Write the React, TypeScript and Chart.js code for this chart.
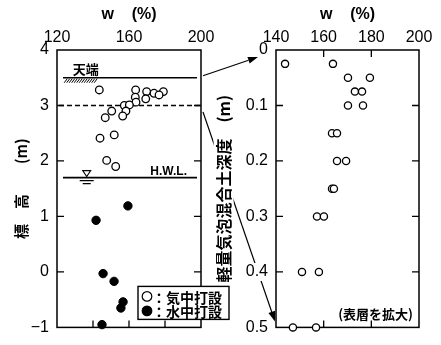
import React, { useEffect, useRef } from 'react';
import { Chart, registerables } from 'chart.js';
Chart.register(...registerables);

// ---------------- data ----------------
const SERIES_LABELS = ['気中打設', '水中打設'];

// left chart: elevation (m) vs water content w (%)
const AIR_W = [143.5, 163.7, 169.8, 173.9, 179.1, 176.7, 163.5, 169.3, 163.9, 157.4, 160.2, 158.3, 150.4, 156.5, 146.8, 143.9, 151.8, 147.6, 152.6];
const AIR_EL = [3.28, 3.28, 3.25, 3.22, 3.25, 3.19, 3.15, 3.12, 3.06, 3.0, 3.01, 2.9, 2.9, 2.81, 2.78, 2.41, 2.47, 2.01, 1.9];
const WATER_W = [159.4, 141.7, 145.6, 151.7, 156.7, 155.5, 145.0];
const WATER_EL = [1.19, 0.93, -0.03, -0.17, -0.54, -0.65, -0.95];

// right chart: depth (m) vs w (%)
const DEPTH_W = [143.8, 163.9, 170.2, 179.4, 173.1, 176.1, 170.2, 176.5, 163.5, 165.6, 165.6, 169.4, 163.5, 164.3, 157.2, 160.1, 150.9, 158.0, 147.1, 156.8];
const DEPTH = [0.025, 0.025, 0.05, 0.05, 0.075, 0.075, 0.1, 0.1, 0.15, 0.15, 0.2, 0.2, 0.25, 0.25, 0.3, 0.3, 0.4, 0.4, 0.5, 0.5];

// reference levels (m)
const CREST_EL = 3.5;
const SURFACE_EL = 3.0;
const HWL_EL = 1.7;
const HATCH_W = [124, 141];
const CREST_LABEL_W = 136;
const WATER_MARK_W = 136.5;

// tick labels
const LEFT_X_TICK_LABELS = [120, 160, 200];
const RIGHT_X_TICK_LABELS = [140, 160, 180, 200];

const W = 441;
const H = 345;
const NUM = "'Liberation Sans', Arial, Helvetica, sans-serif";
const CJK = "'Noto Sans CJK JP', 'Noto Sans', sans-serif";

const near = (a: number, b: number) => Math.abs(a - b) < 1e-9;

const framePlugin = {
  id: 'frame',
  beforeDatasetsDraw(chart: any, _a: any, opts: any) {
    const { ctx, chartArea: a } = chart;
    const xs = chart.scales.x;
    const ys = chart.scales.y;
    ctx.save();
    ctx.strokeStyle = '#000';
    ctx.lineWidth = 1.5;
    ctx.strokeRect(a.left, a.top, a.right - a.left, a.bottom - a.top);
    ctx.lineWidth = 1.3;
    ctx.beginPath();
    const L = 7;
    for (const t of xs.ticks) {
      if (near(t.value, xs.min) || near(t.value, xs.max)) continue;
      const p = xs.getPixelForValue(t.value);
      ctx.moveTo(p, a.bottom);
      ctx.lineTo(p, a.bottom - L);
      if (opts && opts.topTicks) {
        ctx.moveTo(p, a.top);
        ctx.lineTo(p, a.top + L);
      }
    }
    for (const t of ys.ticks) {
      if (near(t.value, ys.min) || near(t.value, ys.max)) continue;
      const p = ys.getPixelForValue(t.value);
      ctx.moveTo(a.left, p);
      ctx.lineTo(a.left + L, p);
      ctx.moveTo(a.right, p);
      ctx.lineTo(a.right - L, p);
    }
    ctx.stroke();
    ctx.restore();
  },
};

const leftDecor = {
  id: 'leftDecor',
  beforeDatasetsDraw(chart: any) {
    const { ctx, chartArea: a } = chart;
    const xs = chart.scales.x;
    const ys = chart.scales.y;
    ctx.save();
    ctx.strokeStyle = '#000';
    ctx.fillStyle = '#000';
    // crest line
    const yc = ys.getPixelForValue(CREST_EL);
    ctx.lineWidth = 1.6;
    ctx.beginPath();
    ctx.moveTo(a.left + 6, yc);
    ctx.lineTo(a.right - 4, yc);
    ctx.stroke();
    // ground hatch
    const h0 = xs.getPixelForValue(HATCH_W[0]);
    const h1 = xs.getPixelForValue(HATCH_W[1]);
    ctx.lineWidth = 1;
    ctx.beginPath();
    for (let x = h0; x <= h1; x += 2.5) {
      ctx.moveTo(x + 3, yc + 1);
      ctx.lineTo(x, yc + 5);
    }
    ctx.stroke();
    // surface (dashed)
    const ysf = ys.getPixelForValue(SURFACE_EL);
    ctx.lineWidth = 1.5;
    ctx.setLineDash([5, 3]);
    ctx.beginPath();
    ctx.moveTo(a.left + 2, ysf);
    ctx.lineTo(a.right, ysf);
    ctx.stroke();
    ctx.setLineDash([]);
    // HWL
    const yh = ys.getPixelForValue(HWL_EL);
    ctx.lineWidth = 1.6;
    ctx.beginPath();
    ctx.moveTo(a.left + 6, yh);
    ctx.lineTo(a.right - 4, yh);
    ctx.stroke();
    // water mark
    const xw = xs.getPixelForValue(WATER_MARK_W);
    ctx.lineWidth = 1.1;
    ctx.beginPath();
    ctx.moveTo(xw - 4, yh - 7);
    ctx.lineTo(xw + 4, yh - 7);
    ctx.lineTo(xw, yh - 1);
    ctx.closePath();
    ctx.stroke();
    ctx.beginPath();
    ctx.moveTo(xw - 7, yh + 3);
    ctx.lineTo(xw + 7, yh + 3);
    ctx.moveTo(xw - 4, yh + 6);
    ctx.lineTo(xw + 4, yh + 6);
    ctx.stroke();
    // labels
    ctx.font = `bold 13px ${CJK}`;
    ctx.textAlign = 'center';
    ctx.textBaseline = 'alphabetic';
    ctx.fillText('天端', xs.getPixelForValue(CREST_LABEL_W), yc - 4);
    ctx.font = `bold 12px ${NUM}`;
    ctx.textAlign = 'right';
    ctx.fillText('H.W.L.', a.right - 14, yh - 3);
    ctx.restore();
  },
  afterDatasetsDraw(chart: any) {
    const { ctx, chartArea: a } = chart;
    const bx = a.left + 81;
    const by = a.bottom - 41;
    const bw = 91;
    const bh = 33;
    ctx.save();
    ctx.fillStyle = '#fff';
    ctx.fillRect(bx, by, bw, bh);
    ctx.strokeStyle = '#000';
    ctx.lineWidth = 1.4;
    ctx.strokeRect(bx, by, bw, bh);
    chart.data.datasets.forEach((ds: any, i: number) => {
      const cy = by + 10 + i * 14.5;
      ctx.beginPath();
      ctx.arc(bx + 9, cy, 4.8, 0, Math.PI * 2);
      ctx.fillStyle = ds.backgroundColor;
      ctx.fill();
      ctx.lineWidth = 1.2;
      ctx.strokeStyle = '#000';
      ctx.stroke();
      ctx.fillStyle = '#000';
      ctx.font = `bold 14px ${CJK}`;
      ctx.textAlign = 'left';
      ctx.textBaseline = 'middle';
      ctx.fillText('：' + ds.label, bx + 14, cy + 1);
    });
    ctx.restore();
  },
};

function drawArrow(ctx: any, x0: number, y0: number, x1: number, y1: number, clip?: number[][]) {
  const ang = Math.atan2(y1 - y0, x1 - x0);
  const hl = 10;
  const hw = 3.5;
  const bx = x1 - hl * Math.cos(ang);
  const by = y1 - hl * Math.sin(ang);
  ctx.save();
  if (clip && clip.length) {
    ctx.beginPath();
    ctx.rect(0, 0, W, H);
    for (const r of clip) ctx.rect(r[0], r[1], r[2], r[3]);
    ctx.clip('evenodd');
  }
  ctx.lineWidth = 1.2;
  ctx.strokeStyle = '#000';
  ctx.beginPath();
  ctx.moveTo(x0, y0);
  ctx.lineTo(bx, by);
  ctx.stroke();
  ctx.restore();
  ctx.save();
  ctx.fillStyle = '#000';
  ctx.beginPath();
  ctx.moveTo(x1, y1);
  ctx.lineTo(bx + hw * Math.sin(ang), by - hw * Math.cos(ang));
  ctx.lineTo(bx - hw * Math.sin(ang), by + hw * Math.cos(ang));
  ctx.closePath();
  ctx.fill();
  ctx.restore();
}

const TICK_FONT = { family: NUM, size: 16 };
const TITLE_FONT_W = { family: NUM, size: 16, weight: 'bold' as const };

export default function App() {
  const lRef = useRef<HTMLCanvasElement>(null);
  const rRef = useRef<HTMLCanvasElement>(null);

  useEffect(() => {
    const left = new Chart(lRef.current as HTMLCanvasElement, {
      type: 'scatter',
      data: {
        datasets: [
          {
            label: SERIES_LABELS[0],
            data: AIR_W.map((w, i) => ({ x: w, y: AIR_EL[i] })),
            backgroundColor: '#fff',
            borderColor: '#000',
            borderWidth: 1.3,
            pointRadius: 3.8,
            clip: false,
          } as any,
          {
            label: SERIES_LABELS[1],
            data: WATER_W.map((w, i) => ({ x: w, y: WATER_EL[i] })),
            backgroundColor: '#000',
            borderColor: '#000',
            borderWidth: 1,
            pointRadius: 4.2,
            clip: false,
          } as any,
        ],
      },
      options: {
        responsive: false,
        animation: false,
        events: [],
        layout: { padding: { left: 0, top: 0, right: W - 201, bottom: H - 333 } },
        plugins: {
          legend: { display: false },
          tooltip: { enabled: false },
          frame: { topTicks: false },
        } as any,
        scales: {
          x: {
            type: 'linear',
            position: 'top',
            min: 120,
            max: 200,
            afterFit: (s: any) => { s.height = 50; },
            ticks: {
              stepSize: 20,
              padding: 3,
              color: '#000',
              font: TICK_FONT,
              maxRotation: 0,
              autoSkip: false,
              callback: (v: any) => (LEFT_X_TICK_LABELS.includes(v) ? String(v) : ''),
            },
            grid: { display: false, drawTicks: false },
            border: { display: false },
            title: { display: true, text: 'w    (%)', color: '#000', font: TITLE_FONT_W, padding: { top: 5, bottom: 0 } },
          },
          y: {
            type: 'linear',
            min: -1,
            max: 4,
            afterFit: (s: any) => { s.width = 57; },
            ticks: {
              stepSize: 1,
              padding: 8,
              color: '#000',
              font: TICK_FONT,
              callback: (v: any) => (v < 0 ? '−' + -v : String(v)),
            },
            grid: { display: false, drawTicks: false },
            border: { display: false },
            title: { display: true, text: '標　高　　(m)', color: '#000', font: { family: CJK, size: 15, weight: 'bold' }, padding: { top: 12, bottom: 0 } },
          },
        },
      },
      plugins: [framePlugin, leftDecor],
    } as any);

    const rightDecor = {
      id: 'rightDecor',
      beforeDraw(chart: any) {
        const { ctx, chartArea: ra } = chart;
        const ys = chart.scales.y;
        const la = left.chartArea;
        const ly = left.scales.y;
        // exclusion rects: y-axis title and tick labels
        const clip: number[][] = [];
        ctx.save();
        ctx.font = `bold 16px ${CJK}`;
        const tt = ys.options.title.text;
        const tw = ctx.measureText(tt).width;
        const tcx = ys.left + 14 + 9.6;
        const tcy = (ra.top + ra.bottom) / 2;
        clip.push([tcx - 10, tcy - tw / 2 - 4, 20, tw + 8]);
        ctx.font = `16px ${NUM}`;
        for (const t of ys.ticks) {
          const lbl = t.label as string;
          const w = ctx.measureText(lbl).width;
          const py = ys.getPixelForValue(t.value);
          const rx = ys.right - 8;
          clip.push([rx - w - 3, py - 9, w + 5, 18]);
        }
        ctx.restore();
        drawArrow(ctx, la.right + 2, ly.getPixelForValue(CREST_EL) - 2, ra.left - 18, ys.getPixelForValue(0) + 7);
        drawArrow(ctx, la.right + 2, ly.getPixelForValue(SURFACE_EL) + 6.5, ra.left - 1, ys.getPixelForValue(0.5) - 6, clip);
      },
      afterDatasetsDraw(chart: any) {
        const { ctx, chartArea: ra } = chart;
        ctx.save();
        ctx.fillStyle = '#000';
        ctx.font = `bold 13px ${CJK}`;
        ctx.textAlign = 'right';
        ctx.textBaseline = 'alphabetic';
        ctx.fillText('(表層を拡大)', ra.right - 6, ra.bottom - 8);
        ctx.restore();
      },
    };

    const right = new Chart(rRef.current as HTMLCanvasElement, {
      type: 'scatter',
      data: {
        datasets: [
          {
            label: SERIES_LABELS[0],
            data: DEPTH_W.map((w, i) => ({ x: w, y: DEPTH[i] })),
            backgroundColor: '#fff',
            borderColor: '#000',
            borderWidth: 1.3,
            pointRadius: 3.6,
            clip: false,
          } as any,
        ],
      },
      options: {
        responsive: false,
        animation: false,
        events: [],
        layout: { padding: { left: 200, top: 0, right: W - 419, bottom: H - 336 } },
        plugins: {
          legend: { display: false },
          tooltip: { enabled: false },
          frame: { topTicks: true },
        } as any,
        scales: {
          x: {
            type: 'linear',
            position: 'top',
            min: 140,
            max: 200,
            afterFit: (s: any) => { s.height = 50; },
            ticks: {
              stepSize: 20,
              padding: 3,
              color: '#000',
              font: TICK_FONT,
              maxRotation: 0,
              autoSkip: false,
              callback: (v: any) => (RIGHT_X_TICK_LABELS.includes(v) ? String(v) : ''),
            },
            grid: { display: false, drawTicks: false },
            border: { display: false },
            title: { display: true, text: 'w    (%)', color: '#000', font: TITLE_FONT_W, padding: { top: 5, bottom: 0 } },
          },
          y: {
            type: 'linear',
            min: 0,
            max: 0.5,
            reverse: true,
            afterFit: (s: any) => { s.width = 76; },
            ticks: {
              stepSize: 0.1,
              padding: 8,
              color: '#000',
              font: TICK_FONT,
              callback: (v: any) => (v === 0 ? '0' : Number(v).toFixed(1)),
            },
            grid: { display: false, drawTicks: false },
            border: { display: false },
            title: { display: true, text: '軽量気泡混合土深度　(m)', color: '#000', font: { family: CJK, size: 16, weight: 'bold' }, padding: { top: 14, bottom: 0 } },
          },
        },
      },
      plugins: [framePlugin, rightDecor],
    } as any);

    return () => {
      right.destroy();
      left.destroy();
    };
  }, []);

  return (
    <div style={{ position: 'fixed', left: 0, top: 0, width: W, height: H, background: '#fff' }}>
      <canvas ref={lRef} width={W} height={H} style={{ position: 'absolute', left: 0, top: 0, width: W, height: H }} />
      <canvas ref={rRef} width={W} height={H} style={{ position: 'absolute', left: 0, top: 0, width: W, height: H }} />
    </div>
  );
}
